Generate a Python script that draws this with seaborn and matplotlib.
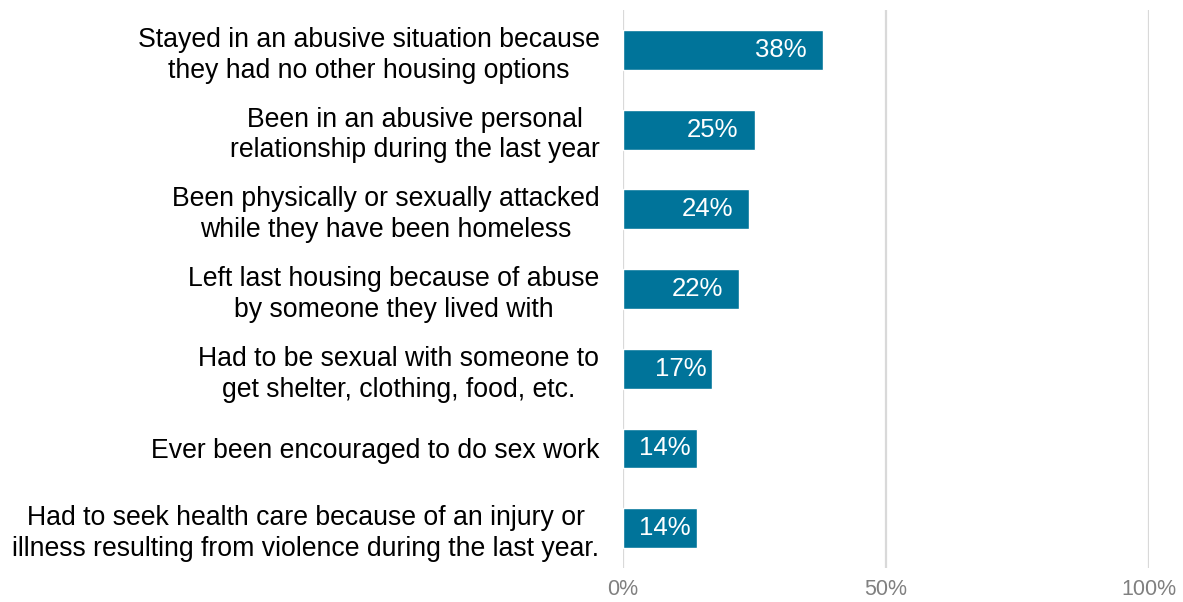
import matplotlib
matplotlib.use("Agg")
import matplotlib.pyplot as plt
import seaborn as sns
import pandas as pd

categories = [
    "Stayed in an abusive situation because\nthey had no other housing options",
    "Been in an abusive personal\nrelationship during the last year",
    "Been physically or sexually attacked\nwhile they have been homeless",
    "Left last housing because of abuse\nby someone they lived with",
    "Had to be sexual with someone to\nget shelter, clothing, food, etc.",
    "Ever been encouraged to do sex work",
    "Had to seek health care because of an injury or\nillness resulting from violence during the last year.",
]
percents = [38, 25, 24, 22, 17, 14, 14]
x_ticks = [0, 50, 100]

df = pd.DataFrame({"category": categories, "percent": percents})

sns.set_theme(style="white")
plt.rcParams["font.family"] = ["Liberation Sans", "DejaVu Sans"]

fig = plt.figure(figsize=(11.83, 6.02), dpi=100)
ax = fig.add_axes([623 / 1183, 1 - 568 / 602, (1149 - 623) / 1183, (568 - 10) / 602])

bar_color = "#00749A"
sns.barplot(data=df, x="percent", y="category", color=bar_color, width=0.5,
            saturation=1, ax=ax, zorder=3)

ax.set_xlim(0, 100)
ax.set_ylim(6.5, -0.5)
ax.set_xticks(x_ticks)
ax.set_xticklabels([f"{t}%" for t in x_ticks], color="#808080", fontsize=15.5)
ax.xaxis.grid(True, color="#D9D9D9", linewidth=1.6, zorder=0)
ax.set_xlabel("")
ax.set_ylabel("")
for s in ax.spines.values():
    s.set_visible(False)
ax.tick_params(axis="both", length=0)
ax.tick_params(axis="x", pad=8)
ax.tick_params(axis="y", pad=17)

for lbl in ax.get_yticklabels():
    lbl.set_fontsize(19.2)
    lbl.set_color("#000000")
    lbl.set_multialignment("center")
    lbl.set_linespacing(1.24)

# value labels inside the bar ends
for patch, val in zip(ax.patches, percents):
    y = patch.get_y() + patch.get_height() / 2
    w = patch.get_width()
    offset = -16 if w > 20 else -6
    ax.annotate(f"{val}%", xy=(w, y), xytext=(offset, 0), textcoords="offset pixels",
                ha="right", va="center", color="white", fontsize=18.5, zorder=4)

fig.savefig("out.png", dpi=100, facecolor="white")
